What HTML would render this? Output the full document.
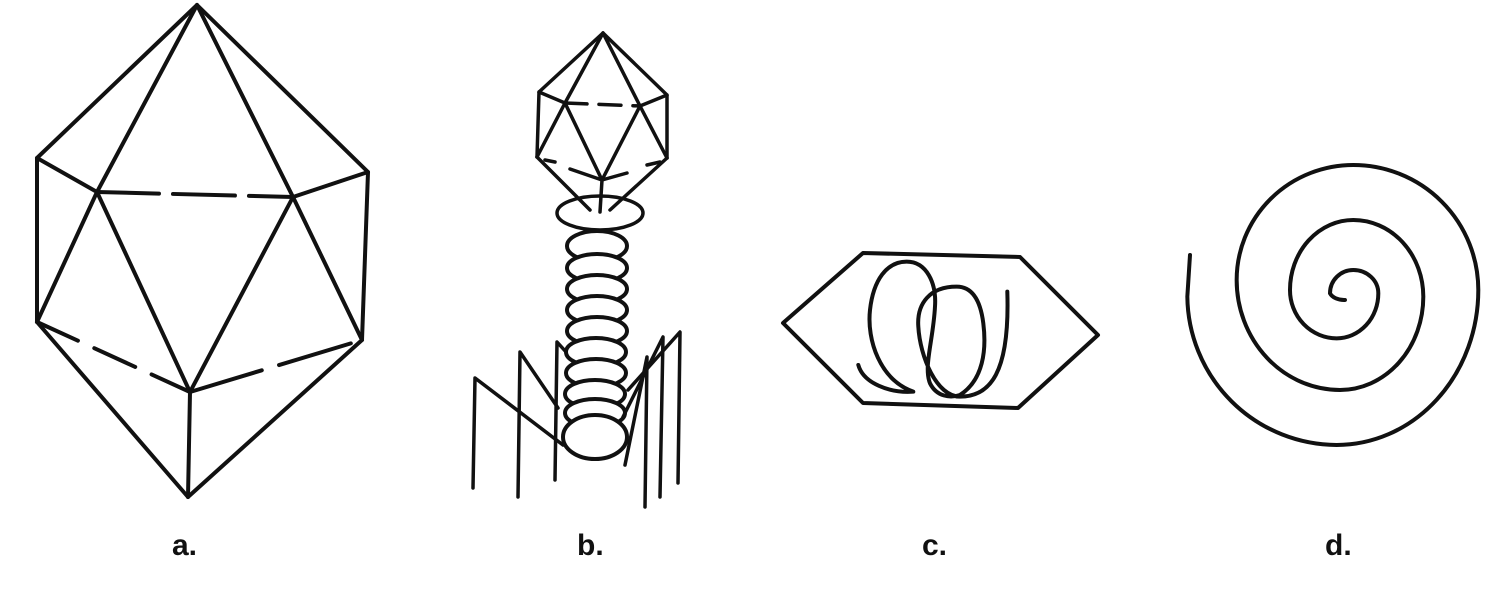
<!DOCTYPE html>
<html><head><meta charset="utf-8"><style>
html,body{margin:0;padding:0;background:#fff;width:1500px;height:600px;overflow:hidden}
text{font-family:"Liberation Sans",Arial,sans-serif;font-weight:bold;font-size:30px;fill:#111}
</style></head><body>
<svg width="1500" height="600" viewBox="0 0 1500 600" xmlns="http://www.w3.org/2000/svg">
<g stroke="#111" stroke-width="4" fill="none" stroke-linecap="round" stroke-linejoin="round">
<!-- a -->
<polygon points="197,5 37,158 37,322 188,497 362,340 368,172"/>
<line x1="197" y1="5" x2="97" y2="192"/>
<line x1="197" y1="5" x2="293" y2="197"/>
<line x1="97" y1="192" x2="293" y2="197" stroke-dasharray="62,14"/>
<line x1="97" y1="192" x2="190" y2="392"/>
<line x1="293" y1="197" x2="190" y2="392"/>
<line x1="37" y1="158" x2="97" y2="192"/>
<line x1="368" y1="172" x2="293" y2="197"/>
<line x1="97" y1="192" x2="37" y2="322"/>
<line x1="293" y1="197" x2="362" y2="340"/>
<line x1="37" y1="322" x2="190" y2="392" stroke-dasharray="45,18"/>
<line x1="190" y1="392" x2="362" y2="340" stroke-dasharray="75,18"/>
<line x1="190" y1="392" x2="188" y2="497"/>
<!-- b -->
<g stroke-width="3.5">
<polyline points="473,488 475,378 563,445"/>
<polyline points="518,497 520,352 558,408"/>
<polyline points="555,480 557,342 567,353"/>
<polyline points="537,157 539,92 603,33 667,95 667,158"/>
<line x1="603" y1="33" x2="565" y2="103"/>
<line x1="603" y1="33" x2="640" y2="106"/>
<line x1="539" y1="92" x2="565" y2="103"/>
<line x1="667" y1="95" x2="640" y2="106"/>
<line x1="565" y1="103" x2="640" y2="106" stroke-dasharray="22,12"/>
<line x1="565" y1="103" x2="537" y2="157"/>
<line x1="640" y1="106" x2="667" y2="158"/>
<line x1="565" y1="103" x2="602" y2="180"/>
<line x1="640" y1="106" x2="602" y2="180"/>
<line x1="537" y1="157" x2="590" y2="210"/>
<line x1="667" y1="158" x2="610" y2="210"/>
<line x1="545" y1="160" x2="555" y2="162"/>
<line x1="570" y1="169" x2="602" y2="180"/>
<line x1="602" y1="180" x2="627" y2="173"/>
<line x1="647" y1="165" x2="660" y2="162"/>
<line x1="602" y1="180" x2="600" y2="212"/>
<ellipse cx="600" cy="213" rx="43" ry="17"/>
<g fill="#fff" stroke-width="4">
<ellipse cx="597" cy="246" rx="30" ry="15"/>
<ellipse cx="597" cy="268" rx="30" ry="14"/>
<ellipse cx="597" cy="289" rx="30" ry="14"/>
<ellipse cx="597" cy="310" rx="30" ry="14"/>
<ellipse cx="597" cy="331" rx="30" ry="14"/>
<ellipse cx="596" cy="352" rx="30" ry="14"/>
<ellipse cx="596" cy="373" rx="30" ry="14"/>
<ellipse cx="595" cy="394" rx="30" ry="14"/>
<ellipse cx="595" cy="413" rx="30" ry="14"/>
<ellipse cx="595" cy="437" rx="32" ry="22"/>
</g>
<polyline points="625,465 647,357 645,507"/>
<polyline points="623,417 663,337 660,497"/>
<polyline points="628,390 680,332 678,483"/>
</g>
<!-- c -->
<polygon points="783,323 863,253 1020,257 1098,335 1018,408 863,403"/>
<path transform="translate(770,240) scale(0.3333)" stroke-width="12" d="M265,375 C280,430 360,460 430,455 C330,420 290,300 300,210 C310,120 350,65 410,65 C470,65 500,130 495,200 C490,300 460,380 480,430 C500,470 540,475 570,465 C640,420 650,330 640,250 C630,170 600,140 560,140 C480,140 440,190 445,260 C450,350 500,470 570,470 C660,470 720,400 712,155"/>
<!-- d -->
<path transform="translate(1180,140) scale(0.3333)" stroke-width="12" d="M30,345 L22,470 A450,450 0 0 0 470,915 A425,465 0 0 0 895,450 A375,375 0 0 0 520,75 A350,345 0 0 0 170,420 A310,330 0 0 0 480,750 A250,280 0 0 0 730,470 A210,230 0 0 0 520,240 A190,210 0 0 0 330,450 A140,145 0 0 0 470,595 A125,135 0 0 0 595,460 A75,70 0 0 0 520,390 A70,70 0 0 0 450,460 A45,30 0 0 0 495,480"/>
</g>
<text x="172" y="555">a.</text>
<text x="577" y="555">b.</text>
<text x="922" y="555">c.</text>
<text x="1325" y="555">d.</text>
</svg>
</body></html>
